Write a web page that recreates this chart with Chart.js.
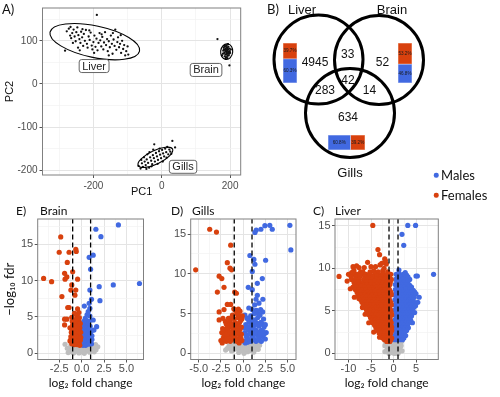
<!DOCTYPE html>
<html>
<head>
<meta charset="utf-8">
<script src="https://cdn.jsdelivr.net/npm/chart.js@4.4.1/dist/chart.umd.min.js"></script>
<style>
  html, body { margin:0; padding:0; background:#fff; }
  #fig { position:relative; width:500px; height:397px; overflow:hidden; background:#fff; }
  #fig canvas { position:absolute; }
  .t { position:absolute; white-space:nowrap; line-height:1; color:#111; font-family:Lato, 'Open Sans', sans-serif; font-size:12px; transform:translate(0,-50%); }
  .dot { position:absolute; width:4.5px; height:4.5px; border-radius:50%; transform:translate(-50%,-50%); }
</style>
</head>
<body>
<div id="fig">
  <canvas id="chartA" width="250" height="200" style="left:0;top:0;width:250px;height:200px"></canvas>
  <canvas id="chartVenn" width="180" height="182" style="left:262px;top:0;width:180px;height:182px"></canvas>
  <canvas id="barLiver" width="14" height="40" style="left:283px;top:43px;width:14px;height:40px"></canvas>
  <canvas id="barBrain" width="14" height="40" style="left:398px;top:43px;width:14px;height:40px"></canvas>
  <canvas id="barGills" width="37" height="15" style="left:328px;top:135px;width:37px;height:15px"></canvas>
  <canvas id="chartE" width="155" height="197" style="left:0;top:200px;width:155px;height:197px"></canvas>
  <canvas id="chartD" width="150" height="197" style="left:155px;top:200px;width:150px;height:197px"></canvas>
  <canvas id="chartC" width="145" height="197" style="left:305px;top:200px;width:145px;height:197px"></canvas>
  <div class="t" style="left:2px;top:9px;font-size:13px">A)</div>
  <div class="t" style="left:267px;top:9px;font-size:13px">B)</div>
  <div class="t" style="left:16px;top:211px">E)</div>
  <div class="t" style="left:40px;top:211px">Brain</div>
  <div class="t" style="left:171px;top:211px">D)</div>
  <div class="t" style="left:192px;top:211px">Gills</div>
  <div class="t" style="left:313px;top:211px">C)</div>
  <div class="t" style="left:335px;top:211px">Liver</div>
  <div class="dot" id="dotM" style="left:436px;top:175px"></div>
  <div class="t" id="legM" style="left:441px;top:175px;font-size:13px"></div>
  <div class="dot" id="dotF" style="left:436px;top:195px"></div>
  <div class="t" id="legF" style="left:441px;top:195px;font-size:13px"></div>
</div>
<script>
// ======================= DATA =======================
const tissues = ['Liver', 'Brain', 'Gills'];
const sexes = ['Males', 'Females'];

// ---- Panel A: PCA scores (PC1, PC2) ----
const pcaLiver = [[-283,77],[-278,122],[-272,128],[-268,112],[-265,106],[-262,118],[-258,126],[-255,110],[-252,99],[-250,120],[-247,131],[-244,113],[-241,104],[-238,95],[-236,121],[-233,108],[-230,88],[-228,116],[-225,100],[-222,125],[-219,93],[-217,84],[-214,110],[-211,102],[-208,119],[-205,89],[-203,80],[-200,97],[-197,112],[-194,86],[-191,105],[-190,160],[-188,78],[-185,95],[-182,118],[-180,101],[-177,87],[-174,109],[-171,80],[-169,96],[-166,120],[-163,90],[-160,104],[-158,76],[-155,99],[-152,85],[-149,112],[-146,93],[-144,70],[-141,103],[-138,88],[-136,126],[-133,79],[-130,97],[-128,108],[-125,85],[-122,93],[-119,72],[-116,100],[-113,81],[-110,90],[-107,66],[-104,76],[-100,87],[-98,68],[-260,95],[-245,84],[-232,127],[-212,124],[-198,72],[-176,115],[-155,66],[-143,118],[-120,113],[-267,132],[-240,78]];
const pcaBrain = [[182,80],[185,86],[188,90],[191,84],[194,79],[197,73],[193,70],[189,74],[186,68],[183,72],[180,77],[192,65],[196,66],[199,76],[187,82],[190,88],[184,64],[194,92],[188,62],[198,82],[181,84],[195,86],[186,76],[191,78],[189,69],[193,81],[185,79],[197,70],[190,72],[183,88],[200,72],[179,70],[192,60],[187,58],[163,104],[198,43],[176,66],[202,80],[194,74],[188,80]];
const pcaGills = [[-68,-190],[-62,-196],[-58,-184],[-55,-192],[-50,-180],[-47,-188],[-44,-175],[-40,-183],[-37,-194],[-34,-170],[-31,-178],[-28,-186],[-26,-165],[-23,-172],[-20,-180],[-17,-160],[-14,-168],[-11,-176],[-8,-156],[-5,-164],[-2,-172],[1,-153],[4,-161],[7,-168],[10,-150],[13,-158],[16,-146],[19,-163],[22,-152],[25,-157],[-52,-170],[-42,-163],[-30,-191],[-12,-185],[3,-180],[-22,-140],[31,-132],[39,-147],[-60,-176],[-36,-158],[-6,-150],[14,-171],[28,-162],[-45,-197],[-25,-152]];
// 95% ellipses: centre, end of major semi-axis, end of minor semi-axis (PC units)
const pcaEllipseLiver = {cx:-196, cy:98, ax:-65, ay:76, bx:-205, by:62};
const pcaEllipseBrain = {cx:190, cy:75, ax:192.5, ay:93, bx:207.5, by:73};
const pcaEllipseGills = {cx:-18.7, cy:-170, ax:31.6, ay:-151, bx:-10, by:-184};
const pcaLabelAt = [[-198, 41.5], [129.6, 32.4], [62.3, -192]];
const pcaXRange = [-349, 231], pcaYRange = [-211, 176];
const pcaXMajor = [-200, 0, 200], pcaXMinor = [-300, -100, 100];
const pcaYMajor = [-200, -100, 0, 100], pcaYMinor = [-150, -50, 50, 150];

// ---- Panel B: Venn counts and sex ratios ----
const vennRegions = ['Liver', 'Liver&Brain', 'Brain', 'Liver&Gills', 'All', 'Brain&Gills', 'Gills'];
const vennCounts = [4945, 33, 52, 283, 42, 14, 634];
const liverSexPct = [60.3, 39.7];
const brainSexPct = [46.8, 53.2];
const gillsSexPct = [60.8, 39.2];

// ---- Volcano plots: [log2 fold change, -log10 fdr] ----
const foldThreshold = 1;
const brainFemale = [[-2.33,16.0],[-2.5,13.9],[-1.4,13.9],[-0.65,14.3],[-0.6,14.0],[-1.6,12.5],[-1.9,11.0],[-1.0,11.2],[-1.65,10.5],[-1.85,10.2],[-0.45,10.2],[-4.24,10.3],[-3.35,9.85],[-1.1,9.4],[-0.65,8.7],[-1.2,8.7],[-2.2,7.8],[-0.75,8.0],[-1.4,6.3],[-1.55,6.3],[-0.45,6.1],[-1.65,4.7],[-1.9,4.7],[-1.1,4.95],[-0.45,4.6],[-1.9,3.9],[-1.0,3.9],[-0.65,4.1],[-1.1,3.0],[-1.0,1.9],[-0.3,1.4],[-0.6,1.5],[-0.9,1.6],[-0.15,1.8],[-0.45,2.0],[-0.75,2.1],[-1.2,2.3],[-0.25,2.4],[-0.55,2.6],[-0.85,2.8],[-0.1,2.9],[-0.4,3.1],[-0.7,3.3],[-1.3,3.5],[-0.2,3.5],[-0.5,3.8],[-0.8,4.3],[-0.3,4.4],[-0.55,5.2],[-0.3,5.6],[-0.8,5.5],[-1.3,1.7],[-0.95,2.5],[-0.35,1.9],[-0.65,1.7],[-1.15,2.9],[-0.6,3.0],
  [-0.2,1.1],[-0.5,1.2],[-0.8,1.2],[-1.1,1.3],[-0.35,2.7],[-0.65,2.4],[-0.95,3.4],[-0.45,4.0],[-0.15,4.1],[-0.7,3.8],[-1.05,4.4],[-0.25,4.9],[-0.6,4.7],[-1.2,1.9],[-0.9,1.95],[-0.1,2.2]];
const brainMale = [[1.59,17.06],[4.1,17.65],[2.15,16.04],[1.29,13.5],[0.84,13.2],[1.0,11.55],[1.96,9.16],[3.53,9.4],[6.45,9.6],[0.92,8.7],[1.1,7.43],[2.04,7.24],[0.84,6.88],[0.92,6.19],[0.73,5.72],[0.92,5.13],[1.29,4.58],[0.84,4.4],[1.67,3.66],[1.37,3.2],[0.55,3.9],[0.4,4.8],[0.6,5.3],[0.3,6.5],[0.1,1.4],[0.4,1.5],[0.7,1.6],[1.0,1.7],[0.2,1.9],[0.55,2.0],[0.85,2.2],[1.15,2.4],[0.15,2.5],[0.45,2.7],[0.75,2.9],[1.05,3.0],[0.25,3.2],[0.6,3.4],[0.95,3.7],[0.35,4.0],[0.7,4.2],[0.2,3.7],[0.5,2.3],[0.3,1.7],
  [0.15,1.1],[0.45,1.1],[0.8,1.25],[1.1,1.3],[0.3,2.2],[0.65,2.5],[0.95,2.6],[0.4,3.5],[0.1,3.4],[0.8,3.3],[0.55,4.5],[0.25,4.4],[1.15,1.9],[0.85,1.9],[0.05,2.8],[0.45,3.0]];
const brainNS = [[-1.85,1.25],[-1.3,0.5],[-1.0,0.9],[-0.7,0.3],[-0.4,0.7],[-0.1,0.2],[0.2,0.8],[0.5,0.4],[0.8,1.0],[1.1,0.6],[1.4,0.2],[-1.1,0.2],[-0.6,1.1],[0.0,1.1],[0.6,1.2],[1.3,1.0],[-0.3,0.05],[0.3,0.0],[0.9,0.15],[-0.9,0.05],[-1.5,0.1],[1.6,0.5],[-0.2,0.5],[0.45,0.75],
  [-1.6,0.7],[-1.2,1.1],[-0.8,0.6],[-0.5,0.35],[0.05,0.6],[0.35,1.1],[0.7,0.55],[1.0,1.2],[1.25,0.35],[1.8,0.9],[-0.15,0.85],[-0.95,0.35],[1.55,1.2],[0.15,0.3]];

const gillsFemale = [[-3.76,15.6],[-3.0,15.25],[-1.4,13.6],[-1.78,11.4],[-1.48,10.7],[-1.3,10.5],[-5.34,10.5],[-2.7,9.7],[-2.4,9.4],[-2.15,8.3],[-2.9,7.7],[-0.95,7.7],[-0.76,7.55],[-1.78,6.15],[-1.4,6.15],[-2.15,5.5],[-1.05,5.6],[-0.54,5.57],[-2.7,5.2],[-2.27,4.4],[-2.7,4.2],[-1.65,4.4],[-1.2,4.8],[-2.5,1.6],[-2.2,2.0],[-1.9,1.5],[-1.6,2.2],[-1.3,1.7],[-1.0,2.4],[-0.7,1.5],[-0.4,2.0],[-0.15,1.6],[-2.4,2.6],[-2.0,3.0],[-1.7,2.8],[-1.4,3.3],[-1.1,3.0],[-0.8,3.6],[-0.5,2.8],[-0.2,3.3],[-1.9,3.7],[-1.5,4.0],[-1.0,4.3],[-0.6,4.5],[-0.3,4.1],[-0.7,5.0],[-0.35,5.3],[-0.9,5.4],[-0.2,2.4],[-0.55,3.6],[-1.25,2.5],[-0.85,1.9],[-2.2,2.5],[-1.6,3.5],[-0.1,4.7],[-0.45,1.3],
  [-2.35,1.3],[-2.05,1.7],[-1.75,1.9],[-1.45,1.5],[-1.15,2.0],[-0.55,1.7],[-0.25,1.9],[-2.1,2.3],[-1.85,2.4],[-1.5,2.7],[-0.95,2.8],[-0.65,2.5],[-0.35,3.0],[-2.3,3.1],[-1.8,3.2],[-1.25,3.6],[-0.95,3.9],[-0.65,3.2],[-0.4,3.9],[-1.3,4.5],[-0.15,4.3],[-0.55,4.9],[-2.0,4.0]];
const gillsMale = [[3.0,16.1],[2.45,16.05],[3.28,15.6],[2.0,15.6],[1.48,15.5],[1.33,15.2],[5.26,16.1],[5.37,13.0],[0.76,12.3],[1.21,11.8],[1.33,11.2],[2.53,11.7],[1.03,10.3],[2.16,9.4],[1.6,8.8],[0.58,8.3],[1.03,8.0],[1.6,7.3],[2.22,6.8],[1.45,6.8],[1.78,6.3],[1.3,6.1],[1.97,5.5],[0.64,5.7],[1.03,5.5],[0.47,4.4],[2.2,5.2],[1.7,5.0],[0.1,1.5],[0.4,2.0],[0.7,1.6],[1.0,2.2],[1.3,1.7],[1.6,2.3],[1.9,1.6],[2.2,2.1],[2.5,1.8],[0.2,2.6],[0.55,3.0],[0.85,2.7],[1.15,3.2],[1.45,2.9],[1.75,3.4],[2.05,2.9],[2.35,3.3],[0.3,3.6],[0.65,4.0],[1.0,3.8],[1.35,4.2],[1.65,4.5],[2.0,3.9],[2.3,4.3],[0.2,4.8],[0.85,4.7],[1.25,5.0],[0.5,1.4],[2.6,2.6],[1.9,4.8],
  [0.25,1.3],[0.55,1.8],[0.85,1.5],[1.15,1.9],[1.45,1.5],[1.75,2.0],[2.05,1.5],[2.35,2.4],[0.35,2.3],[0.7,2.4],[1.0,2.9],[1.3,2.5],[1.6,2.7],[1.9,2.5],[2.2,2.8],[0.15,3.2],[0.45,3.4],[0.8,3.4],[1.25,3.6],[1.55,3.8],[1.85,3.6],[2.15,3.7],[0.45,4.4],[0.95,4.3],[1.5,5.4],[2.5,3.6]];
const gillsNS = [[-1.97,0.4],[-1.6,0.9],[-1.3,0.3],[-1.0,1.2],[-0.7,0.6],[-0.4,1.3],[-0.1,0.4],[0.2,1.0],[0.5,0.2],[0.8,1.3],[1.1,0.7],[1.4,1.2],[1.7,0.5],[-1.2,0.8],[-0.5,0.1],[0.1,0.0],[0.6,0.7],[1.2,0.15],[-0.8,1.4],[0.35,1.4],[1.6,1.0],[-1.5,1.4],[-0.25,0.8],[0.9,0.35],
  [-1.8,0.6],[-1.4,0.6],[-1.1,0.4],[-0.9,0.9],[-0.55,1.0],[-0.3,0.35],[0.0,0.7],[0.35,0.5],[0.55,1.1],[1.0,0.9],[1.3,0.45],[1.55,0.8],[1.85,1.0],[-1.35,1.2],[0.15,1.3],[1.2,1.4]];

const liverFemale = [[-4.6,15.05],[-3.46,12.2],[-3.1,11.6],[-1.95,11.1],[-1.8,10.9],[-5.75,10.7],[-9.0,10.2],[-7.67,10.1],[-12.1,9.05],[-8.8,9.8],[-7.3,9.6],[-1.6,10.5],[-2.6,10.6],[-6.5,10.1],[-4.0,10.2],[-9.3,9.5],[-10.0,9.3],[-10.3,8.5],[-9.6,7.6],[-8.7,6.6],[-7.7,6.45],[-6.9,5.4],[-6.3,4.6],[-5.5,3.6],[-4.4,2.5],[-3.1,1.9],[-8.2,10.3],[-5.0,10.2],[-3.0,10.4],[-2.1,10.0],
[-8.8,9.6],[-6.8,9.6],[-5.2,9.6],[-4.4,9.7],[-3.4,9.6],[-2.4,9.7],[-1.3,9.6],
[-9.0,9.3],[-8.0,9.3],[-7.1,9.3],[-6.1,9.3],[-5.3,9.3],[-4.2,9.3],[-3.3,9.3],[-2.3,9.3],[-1.4,9.3],[-0.6,9.3],
[-9.4,9.0],[-8.3,9.0],[-7.4,9.1],[-6.3,9.0],[-5.5,8.9],[-4.6,9.0],[-3.7,9.1],[-2.8,9.0],[-1.9,8.9],[-0.9,9.0],
[-9.3,8.7],[-8.5,8.7],[-7.6,8.7],[-6.6,8.7],[-5.6,8.7],[-4.7,8.7],[-3.8,8.7],[-2.9,8.7],[-2.0,8.7],[-1.1,8.7],[-0.5,8.7],
[-8.8,8.4],[-7.8,8.4],[-6.9,8.3],[-6.0,8.4],[-5.1,8.4],[-4.2,8.5],[-3.3,8.4],[-2.4,8.3],[-1.5,8.4],[-0.7,8.4],
[-8.6,8.1],[-7.6,8.1],[-6.7,8.1],[-5.9,8.1],[-5.0,8.1],[-4.2,8.1],[-3.4,8.1],[-2.5,8.1],[-1.6,8.1],[-0.8,8.1],
[-9.0,7.8],[-8.2,7.8],[-7.2,7.9],[-6.4,7.8],[-5.5,7.8],[-4.7,7.7],[-3.8,7.8],[-2.9,7.8],[-2.0,7.9],[-1.1,7.8],
[-8.5,7.5],[-7.7,7.5],[-6.9,7.5],[-6.1,7.5],[-5.2,7.5],[-4.4,7.5],[-3.6,7.5],[-2.7,7.5],[-1.8,7.5],[-0.9,7.5],
[-8.1,7.2],[-7.4,7.2],[-6.6,7.1],[-5.8,7.2],[-4.9,7.2],[-4.1,7.3],[-3.3,7.2],[-2.4,7.2],[-1.5,7.1],[-0.6,7.2],
[-7.9,6.9],[-7.1,6.9],[-6.3,6.9],[-5.5,6.9],[-4.7,6.9],[-3.9,6.9],[-3.0,6.9],[-2.2,6.9],[-1.3,6.9],[-0.5,6.9],
[-7.6,6.6],[-6.8,6.6],[-6.0,6.7],[-5.2,6.6],[-4.4,6.6],[-3.6,6.5],[-2.8,6.6],[-1.9,6.6],[-1.0,6.6],
[-7.3,6.3],[-6.6,6.3],[-5.8,6.3],[-5.0,6.3],[-4.2,6.3],[-3.4,6.3],[-2.6,6.3],[-1.8,6.3],[-0.9,6.3],
[-7.0,6.0],[-6.3,6.0],[-5.5,6.1],[-4.7,6.0],[-3.9,6.0],[-3.1,5.9],[-2.3,6.0],[-1.5,6.0],[-0.6,6.0],
[-6.7,5.7],[-5.9,5.7],[-5.1,5.7],[-4.3,5.7],[-3.5,5.7],[-2.7,5.7],[-1.9,5.7],[-1.1,5.7],[-0.5,5.7],
[-6.2,5.4],[-5.5,5.4],[-4.8,5.3],[-4.0,5.4],[-3.3,5.4],[-2.5,5.5],[-1.7,5.4],[-0.9,5.4],
[-6.0,5.1],[-5.2,5.1],[-4.4,5.1],[-3.7,5.1],[-2.9,5.1],[-2.1,5.1],[-1.3,5.1],[-0.6,5.1],
[-5.8,4.8],[-5.0,4.8],[-4.3,4.9],[-3.6,4.8],[-2.9,4.8],[-2.1,4.7],[-1.3,4.8],[-0.5,4.8],
[-5.4,4.5],[-4.7,4.5],[-4.0,4.5],[-3.3,4.5],[-2.5,4.5],[-1.8,4.5],[-1.0,4.5],[-0.4,4.5],
[-5.1,4.2],[-4.4,4.2],[-3.7,4.1],[-3.0,4.2],[-2.3,4.2],[-1.6,4.3],[-0.8,4.2],
[-4.8,3.9],[-4.1,3.9],[-3.4,3.9],[-2.7,3.9],[-2.0,3.9],[-1.3,3.9],[-0.7,3.9],
[-4.6,3.6],[-3.9,3.6],[-3.2,3.7],[-2.5,3.6],[-1.8,3.6],[-1.1,3.5],[-0.5,3.6],
[-4.2,3.3],[-3.5,3.3],[-2.8,3.3],[-2.1,3.3],[-1.4,3.3],[-0.8,3.3],
[-3.9,3.0],[-3.2,3.0],[-2.5,2.9],[-1.8,3.0],[-1.1,3.0],[-0.4,3.1],
[-3.5,2.7],[-2.9,2.7],[-2.2,2.7],[-1.5,2.7],[-0.9,2.7],[-0.4,2.7],
[-3.2,2.4],[-2.6,2.4],[-1.9,2.5],[-1.2,2.4],[-0.6,2.4],
[-2.8,2.1],[-2.1,2.1],[-1.5,2.1],[-0.8,2.1],
[-2.4,1.8],[-1.7,1.8],[-1.0,1.9],[-0.4,1.8],
[-2.0,1.6],[-1.3,1.6],[-0.6,1.6],
[-1.5,1.4],[-0.8,1.4]];
const liverMale = [[3.17,15.05],[4.9,15.05],[1.88,14.0],[2.27,12.7],[8.9,9.3],[5.3,9.1],[5.0,9.1],[3.6,8.7],[3.3,8.8],[5.7,6.6],[5.4,6.0],[4.7,4.8],[4.2,3.6],[1.2,9.8],[2.6,9.5],
[0.6,9.3],[1.4,9.3],[2.2,9.3],[2.9,9.2],
[0.9,9.0],[1.7,9.0],[2.5,9.0],[3.2,9.0],
[0.5,8.7],[1.3,8.7],[2.1,8.7],[2.8,8.6],
[0.8,8.4],[1.6,8.4],[2.4,8.4],[3.2,8.4],
[0.4,8.1],[1.2,8.1],[2.0,8.1],[2.8,8.1],[3.6,8.0],
[0.8,7.8],[1.6,7.8],[2.4,7.8],[3.2,7.8],[4.0,7.8],
[0.4,7.5],[1.2,7.5],[2.0,7.5],[2.8,7.6],[3.6,7.5],[4.4,7.4],
[0.7,7.2],[1.5,7.2],[2.3,7.2],[3.1,7.2],[3.9,7.2],[4.7,7.2],
[0.3,6.9],[1.1,6.9],[1.9,6.9],[2.7,6.9],[3.5,6.9],[4.3,6.9],[5.0,7.0],
[0.7,6.6],[1.5,6.6],[2.3,6.6],[3.1,6.6],[3.9,6.6],[4.6,6.6],
[0.3,6.3],[1.1,6.3],[1.9,6.3],[2.7,6.3],[3.5,6.3],[4.3,6.3],
[0.7,6.0],[1.5,6.0],[2.3,6.0],[3.1,6.0],[3.9,6.0],[4.6,6.0],
[0.3,5.7],[1.1,5.7],[1.9,5.7],[2.7,5.7],[3.5,5.7],[4.2,5.7],[4.9,5.6],
[0.7,5.4],[1.5,5.4],[2.3,5.4],[3.0,5.4],[3.8,5.4],[4.5,5.4],
[0.3,5.1],[1.1,5.1],[1.9,5.1],[2.6,5.1],[3.4,5.1],[4.1,5.1],
[0.7,4.8],[1.4,4.8],[2.2,4.8],[2.9,4.8],[3.7,4.8],[4.3,4.8],
[0.3,4.5],[1.1,4.5],[1.8,4.5],[2.5,4.5],[3.3,4.5],[4.0,4.4],
[0.7,4.2],[1.4,4.2],[2.1,4.2],[2.8,4.2],[3.6,4.2],
[0.3,3.9],[1.0,3.9],[1.7,3.9],[2.4,3.9],[3.1,3.9],[3.8,3.9],
[0.6,3.6],[1.3,3.6],[2.0,3.6],[2.7,3.6],[3.4,3.6],
[0.3,3.3],[1.0,3.3],[1.7,3.3],[2.4,3.3],[3.1,3.3],
[0.6,3.0],[1.3,3.0],[2.0,3.0],[2.6,3.0],[3.3,3.0],
[0.3,2.7],[0.9,2.7],[1.6,2.7],[2.3,2.7],[2.9,2.7],
[0.6,2.4],[1.2,2.4],[1.8,2.4],[2.4,2.4],
[0.3,2.1],[0.9,2.1],[1.5,2.1],[2.1,2.1],[2.7,2.1],
[0.5,1.8],[1.1,1.8],[1.7,1.8],[2.3,1.8],
[0.3,1.6],[0.8,1.6],[1.4,1.6],[2.0,1.6]];
const liverNS = [[-1.9,0.9],[-1.5,0.3],[-1.2,1.5],[-0.9,0.6],[-0.6,1.2],[-0.3,0.1],[0,0.9],[0.3,1.6],[0.6,0.4],[0.9,1.1],[1.2,0.2],[1.5,0.8],[1.8,1.4],[-1.6,1.8],[-0.4,1.8],[0.7,1.9],[-1.0,0.0],[0.2,0.0],[1.0,0.0],[-0.1,0.5],[-1.3,1.0],[1.4,1.6],[0.45,0.8],[-0.75,0.2],
  [-1.7,1.3],[-1.4,0.7],[-1.1,0.3],[-0.8,1.5],[-0.5,0.6],[-0.2,1.3],[0.1,0.3],[0.4,1.2],[0.8,0.7],[1.1,1.6],[1.35,0.6],[1.7,0.9],[-0.1,1.8],[0.15,2.1],[-0.5,2.2],[0.55,2.1],[-1.9,0.2],[1.9,0.3]];

// axis ranges and breaks
const brainXRange = [-4.9, 6.9], brainYRange = [-0.85, 18.47];
const brainXMajor = [-2.5, 0, 2.5, 5], brainXMinor = [-3.75, -1.25, 1.25, 3.75, 6.25];
const brainYMajor = [0, 5, 10, 15], brainYMinor = [2.5, 7.5, 12.5, 17.5];
const gillsXRange = [-5.9, 5.95], gillsYRange = [-0.78, 16.89];
const gillsXMajor = [-5, -2.5, 0, 2.5, 5], gillsXMinor = [-3.75, -1.25, 1.25, 3.75];
const gillsYMajor = [0, 5, 10, 15], gillsYMinor = [2.5, 7.5, 12.5];
const liverXRange = [-13.0, 9.95], liverYRange = [-0.72, 15.8];
const liverXMajor = [-10, -5, 0, 5], liverXMinor = [-12.5, -7.5, -2.5, 2.5, 7.5];
const liverYMajor = [0, 5, 10, 15], liverYMinor = [2.5, 7.5, 12.5];

// ======================= STYLE / LAYOUT =======================
const RED = '#D8410E', BLUE = '#4169E1', GRAY = '#BEBEBE';
const TICK_COL = '#4D4D4D', GRID_MAJ = '#E4E4E4', GRID_MIN = '#F2F2F2', BORDER_COL = '#808080';
const SANS = "'Liberation Sans', Arial, sans-serif";
const LATO = "Lato, 'Open Sans', sans-serif";
const vennLayout = {
  xRange: [262, 442], yRange: [0, 182],
  circles: [{x:318.5, y:59.5, r:44.5}, {x:379, y:60, r:44.5}, {x:350, y:113, r:44.5}],
  setLabels: [[302, 10.5], [392, 10.5], [350, 173]],
  countAt: [[315, 62.7], [347.7, 54.5], [382.5, 62.7], [325, 90.5], [348, 81], [369.5, 90.5], [348, 117.5]]
};

document.getElementById('dotM').style.background = BLUE;
document.getElementById('dotF').style.background = RED;
document.getElementById('legM').textContent = sexes[0];
document.getElementById('legF').textContent = sexes[1];

const fmt0 = v => String(v);
const fmt1 = v => (v < 0 ? '-' : '') + Math.abs(v).toFixed(1);
const toXY = arr => arr.map(p => ({x: p[0], y: p[1]}));

function axisCfg(o) {
  const all = o.major.concat(o.minor).sort((a, b) => a - b);
  const isMaj = v => o.major.some(m => Math.abs(m - v) < 1e-9);
  const maj = c => !!(c && c.tick && isMaj(c.tick.value));
  return {
    type: 'linear', min: o.range[0], max: o.range[1],
    afterBuildTicks: s => { s.ticks = all.map(v => ({value: v})); },
    afterFit: s => { if (s.isHorizontal()) s.height = o.size; else s.width = o.size; },
    ticks: {autoSkip: false, maxRotation: 0, minRotation: 0, padding: o.pad, color: TICK_COL,
            font: {family: SANS, size: o.fs}, callback: v => isMaj(v) ? o.fmt(v) : ''},
    grid: {color: c => maj(c) ? GRID_MAJ : GRID_MIN, lineWidth: c => maj(c) ? 1 : 0.7,
           tickColor: c => maj(c) ? '#555' : 'rgba(0,0,0,0)', tickLength: 3, tickWidth: 1},
    border: {display: false},
    title: o.title ? {display: true, text: o.title, color: '#111', font: {family: o.titleFont, size: o.titleSize}, padding: o.titlePad} : {display: false}
  };
}

const borderPlugin = {
  id: 'panelBorder',
  afterDatasetsDraw(chart) {
    const a = chart.chartArea, c = chart.ctx;
    c.save(); c.strokeStyle = BORDER_COL; c.lineWidth = 1;
    c.strokeRect(a.left, a.top, a.right - a.left, a.bottom - a.top);
    c.restore();
  }
};

const baseOpts = (pad) => ({
  responsive: false, animation: false, events: [],
  layout: {autoPadding: false, padding: pad},
  plugins: {legend: {display: false}, tooltip: {enabled: false}}
});

// ======================= PANEL A =======================
const pcaEllipses = [pcaEllipseLiver, pcaEllipseBrain, pcaEllipseGills];
const pcaOverlay = {
  id: 'pcaOverlay',
  afterDatasetsDraw(chart) {
    const {ctx, scales: {x, y}} = chart;
    ctx.save();
    ctx.strokeStyle = '#000'; ctx.lineWidth = 1.1;
    pcaEllipses.forEach(e => {
      const cx = x.getPixelForValue(e.cx), cy = y.getPixelForValue(e.cy);
      const axp = x.getPixelForValue(e.ax), ayp = y.getPixelForValue(e.ay);
      const bxp = x.getPixelForValue(e.bx), byp = y.getPixelForValue(e.by);
      const rA = Math.hypot(axp - cx, ayp - cy), rB = Math.hypot(bxp - cx, byp - cy);
      const ang = Math.atan2(ayp - cy, axp - cx);
      ctx.beginPath(); ctx.ellipse(cx, cy, rA, rB, ang, 0, Math.PI * 2); ctx.stroke();
    });
    ctx.font = "11px " + SANS; ctx.textAlign = 'center'; ctx.textBaseline = 'middle';
    tissues.forEach((t, i) => {
      const px = x.getPixelForValue(pcaLabelAt[i][0]), py = y.getPixelForValue(pcaLabelAt[i][1]);
      const w = ctx.measureText(t).width + 6, h = 13;
      ctx.beginPath();
      ctx.roundRect(px - w / 2, py - h / 2, w, h, 2.5);
      ctx.fillStyle = '#fff'; ctx.fill();
      ctx.strokeStyle = '#555'; ctx.lineWidth = 0.9; ctx.stroke();
      ctx.fillStyle = '#222'; ctx.fillText(t, px, py + 0.5);
    });
    ctx.restore();
  }
};

new Chart(document.getElementById('chartA'), {
  type: 'scatter',
  data: {datasets: [pcaLiver, pcaBrain, pcaGills].map((d, i) => ({
    label: tissues[i], data: toXY(d), pointRadius: 1.15, pointHoverRadius: 0,
    backgroundColor: '#111', borderWidth: 0}))},
  options: Object.assign(baseOpts({left: 0, right: 9.3, top: 4.3, bottom: 0}), {
    scales: {
      x: axisCfg({range: pcaXRange, major: pcaXMajor, minor: pcaXMinor, size: 25, pad: 2, fs: 10, fmt: fmt0,
                  title: 'PC1', titleFont: SANS, titleSize: 11, titlePad: {top: 0, bottom: 1}}),
      y: axisCfg({range: pcaYRange, major: pcaYMajor, minor: pcaYMinor, size: 42.5, pad: 2, fs: 10, fmt: fmt0,
                  title: 'PC2', titleFont: SANS, titleSize: 11, titlePad: {top: 3.5, bottom: 0}})
    }
  }),
  plugins: [borderPlugin, pcaOverlay]
});

// ======================= PANEL B (Venn) =======================
const vennText = {
  id: 'vennText',
  afterDatasetsDraw(chart) {
    const {ctx, scales: {x, y}} = chart;
    ctx.save(); ctx.textAlign = 'center'; ctx.textBaseline = 'middle'; ctx.fillStyle = '#111';
    ctx.font = "13px " + SANS;
    tissues.forEach((t, i) => ctx.fillText(t, x.getPixelForValue(vennLayout.setLabels[i][0]), y.getPixelForValue(vennLayout.setLabels[i][1])));
    ctx.font = "12px " + SANS;
    vennCounts.forEach((n, i) => ctx.fillText(String(n), x.getPixelForValue(vennLayout.countAt[i][0]), y.getPixelForValue(vennLayout.countAt[i][1])));
    ctx.restore();
  }
};
new Chart(document.getElementById('chartVenn'), {
  type: 'bubble',
  data: {datasets: [{label: 'sets', data: vennLayout.circles.map(c => ({x: c.x, y: c.y, r: c.r})),
    backgroundColor: 'rgba(0,0,0,0)', borderColor: '#000', borderWidth: 3, hoverRadius: 0, hoverBorderWidth: 3}]},
  options: Object.assign(baseOpts(0), {
    scales: {
      x: {display: false, min: vennLayout.xRange[0], max: vennLayout.xRange[1]},
      y: {display: false, min: vennLayout.yRange[0], max: vennLayout.yRange[1], reverse: true}
    }
  }),
  plugins: [vennText]
});

const pctLabels = {
  id: 'pctLabels',
  afterDatasetsDraw(chart) {
    const ctx = chart.ctx, horiz = chart.options.indexAxis === 'y';
    ctx.save(); ctx.font = "4.6px " + SANS; ctx.fillStyle = '#1a1a1a';
    ctx.textAlign = 'center'; ctx.textBaseline = 'middle';
    chart.data.datasets.forEach((ds, i) => {
      const el = chart.getDatasetMeta(i).data[0];
      const p = el.getProps(['x', 'y', 'base'], true);
      const cx = horiz ? (p.x + p.base) / 2 : p.x, cy = horiz ? p.y : (p.y + p.base) / 2;
      ctx.fillText(ds.data[0].toFixed(1) + '%', cx, cy);
    });
    ctx.restore();
  }
};
function sexBar(id, pct, horizontal) {
  const valueAxis = {display: false, stacked: true, min: 0, max: 100};
  const catAxis = {display: false, stacked: true};
  return new Chart(document.getElementById(id), {
    type: 'bar',
    data: {labels: [''], datasets: sexes.map((s, i) => ({
      label: s, data: [pct[i]], backgroundColor: i === 0 ? BLUE : RED,
      borderColor: i === 0 ? '#A9BAF0' : '#F0A585', borderWidth: 0.8, borderSkipped: false,
      barPercentage: 1, categoryPercentage: 1}))},
    options: Object.assign(baseOpts(0), {
      indexAxis: horizontal ? 'y' : 'x',
      scales: horizontal ? {x: valueAxis, y: catAxis} : {x: catAxis, y: valueAxis}
    }),
    plugins: [pctLabels]
  });
}
sexBar('barLiver', liverSexPct, false);
sexBar('barBrain', brainSexPct, false);
sexBar('barGills', gillsSexPct, true);

// ======================= VOLCANO PANELS =======================
function volcano(id, s) {
  const dash = xv => ({type: 'line', data: [{x: xv, y: s.yRange[0]}, {x: xv, y: s.yRange[1]}],
    borderColor: '#000', borderWidth: 1.3, borderDash: [5, 3], pointRadius: 0, fill: false, order: 0});
  const pts = (d, col, ord) => ({data: toXY(d), backgroundColor: col, pointRadius: 2.6, pointHoverRadius: 0, borderWidth: 0, order: ord});
  return new Chart(document.getElementById(id), {
    type: 'scatter',
    data: {datasets: [dash(-foldThreshold), dash(foldThreshold),
      pts(s.female, RED, 1), pts(s.male, BLUE, 1), pts(s.ns, GRAY, 2)]},
    options: Object.assign(baseOpts({left: 0, right: s.padR, top: 19, bottom: 0}), {
      scales: {
        x: axisCfg({range: s.xRange, major: s.xMajor, minor: s.xMinor, size: 37.5, pad: 0, fs: 11, fmt: s.xFmt,
                    title: 'log\u2082 fold change', titleFont: LATO, titleSize: 12, titlePad: {top: 0, bottom: 7}}),
        y: axisCfg({range: s.yRange, major: s.yMajor, minor: s.yMinor, size: s.yW, pad: 1.5, fs: 11, fmt: fmt0,
                    title: s.yTitle, titleFont: LATO, titleSize: 13, titlePad: {top: 2, bottom: 0}})
      }
    }),
    plugins: [borderPlugin]
  });
}
volcano('chartE', {female: brainFemale, male: brainMale, ns: brainNS, xRange: brainXRange, yRange: brainYRange,
  xMajor: brainXMajor, xMinor: brainXMinor, yMajor: brainYMajor, yMinor: brainYMinor, xFmt: fmt1,
  yW: 37.7, padR: 11.5, yTitle: '\u2212log\u2081\u2080 fdr'});
volcano('chartD', {female: gillsFemale, male: gillsMale, ns: gillsNS, xRange: gillsXRange, yRange: gillsYRange,
  xMajor: gillsXMajor, xMinor: gillsXMinor, yMajor: gillsYMajor, yMinor: gillsYMinor, xFmt: fmt1,
  yW: 35.7, padR: 9, yTitle: null});
volcano('chartC', {female: liverFemale, male: liverMale, ns: liverNS, xRange: liverXRange, yRange: liverYRange,
  xMajor: liverXMajor, xMinor: liverXMinor, yMajor: liverYMajor, yMinor: liverYMinor, xFmt: fmt0,
  yW: 30, padR: 11.7, yTitle: null});
</script>
</body>
</html>
